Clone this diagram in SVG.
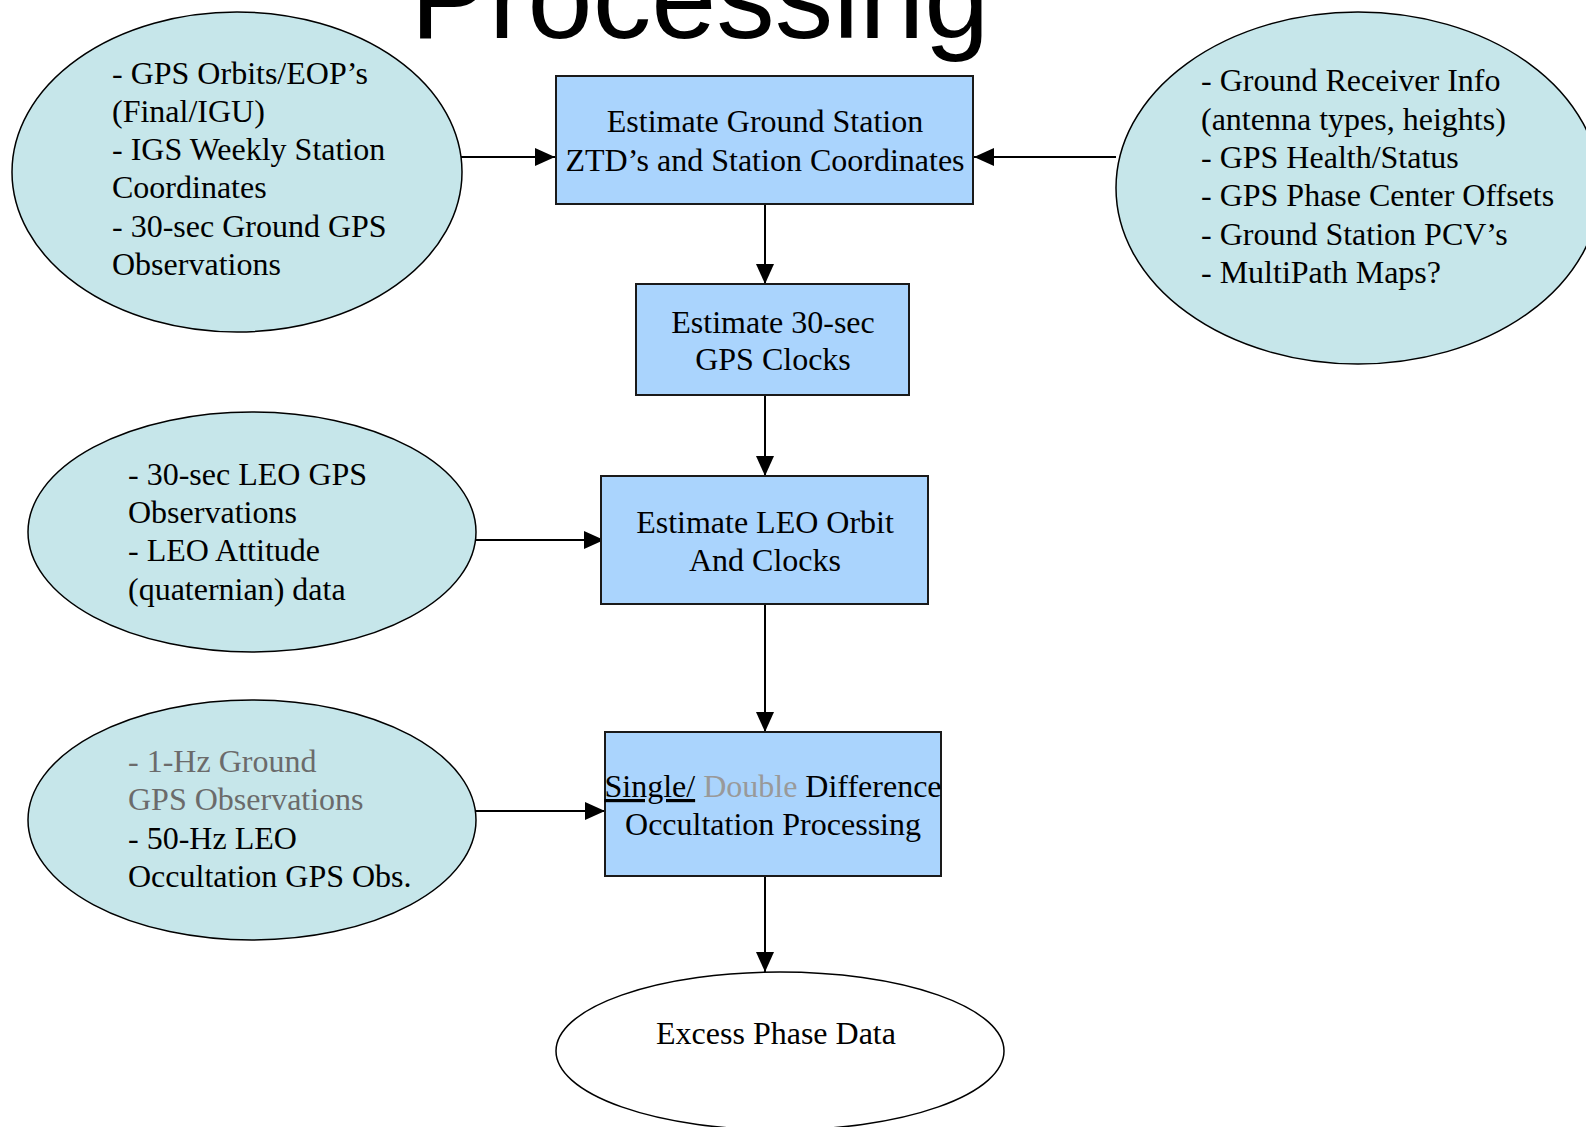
<svg xmlns="http://www.w3.org/2000/svg" width="1586" height="1127" viewBox="0 0 1586 1127">
<style>
.t{font-family:"Liberation Serif","Times New Roman",serif;font-size:32px;fill:#000}
.g{fill:#6b6b6b}
.lg{fill:#999}
.ell{fill:#c6e6ea;stroke:#000;stroke-width:1.5}
.box{fill:#aad4fd;stroke:#1a1a1a;stroke-width:2}
.out{fill:#fff;stroke:#000;stroke-width:1.5}
.c{stroke:#000;stroke-width:2;fill:none;marker-end:url(#ah)}
</style>
<defs>
<marker id="ah" viewBox="0 0 20 20" refX="20" refY="10" markerWidth="20" markerHeight="20" markerUnits="userSpaceOnUse" orient="auto">
<path d="M0,1 L20,10 L0,19 z" fill="#000"/>
</marker>
</defs>
<rect width="1586" height="1127" fill="#fff"/>
<text x="700" y="38" text-anchor="middle" style="font-family:'Liberation Sans',Arial,sans-serif;font-size:117px;fill:#000">Processing</text>

<g id="connectors">
<line class="c" x1="461" y1="157" x2="555" y2="157"/>
<line class="c" x1="1116" y1="157" x2="974" y2="157"/>
<line class="c" x1="765" y1="204" x2="765" y2="284"/>
<line class="c" x1="765" y1="395" x2="765" y2="476"/>
<line class="c" x1="476" y1="540" x2="604" y2="540"/>
<line class="c" x1="765" y1="604" x2="765" y2="732"/>
<line class="c" x1="476" y1="811" x2="605" y2="811"/>
<line class="c" x1="765" y1="876" x2="765" y2="972"/>
</g>

<g id="in-ground">
<ellipse class="ell" cx="237" cy="172" rx="225" ry="160"/>
<text class="t" x="112" y="84">- GPS Orbits/EOP’s</text>
<text class="t" x="112" y="122">(Final/IGU)</text>
<text class="t" x="112" y="160">- IGS Weekly Station</text>
<text class="t" x="112" y="198">Coordinates</text>
<text class="t" x="112" y="237">- 30-sec Ground GPS</text>
<text class="t" x="112" y="275">Observations</text>
</g>

<g id="in-receiver">
<ellipse class="ell" cx="1358" cy="188" rx="242" ry="176"/>
<text class="t" x="1201" y="91">- Ground Receiver Info</text>
<text class="t" x="1201" y="130">(antenna types, heights)</text>
<text class="t" x="1201" y="168">- GPS Health/Status</text>
<text class="t" x="1201" y="206">- GPS Phase Center Offsets</text>
<text class="t" x="1201" y="245">- Ground Station PCV’s</text>
<text class="t" x="1201" y="283">- MultiPath Maps?</text>
</g>

<g id="box-ground">
<rect class="box" x="556" y="76" width="417" height="128"/>
<text class="t" x="765" y="132" text-anchor="middle">Estimate Ground Station</text>
<text class="t" x="765" y="171" text-anchor="middle">ZTD’s and Station Coordinates</text>
</g>

<g id="box-clocks">
<rect class="box" x="636" y="284" width="273" height="111"/>
<text class="t" x="773" y="333" text-anchor="middle">Estimate 30-sec</text>
<text class="t" x="773" y="370" text-anchor="middle">GPS Clocks</text>
</g>

<g id="in-leo">
<ellipse class="ell" cx="252" cy="532" rx="224" ry="120"/>
<text class="t" x="128" y="485">- 30-sec LEO GPS</text>
<text class="t" x="128" y="523">Observations</text>
<text class="t" x="128" y="561">- LEO Attitude</text>
<text class="t" x="128" y="600">(quaternian) data</text>
</g>

<g id="box-leo">
<rect class="box" x="601" y="476" width="327" height="128"/>
<text class="t" x="765" y="533" text-anchor="middle">Estimate LEO Orbit</text>
<text class="t" x="765" y="571" text-anchor="middle">And Clocks</text>
</g>

<g id="in-occ">
<ellipse class="ell" cx="252" cy="820" rx="224" ry="120"/>
<text class="t g" x="128" y="772">- 1-Hz Ground</text>
<text class="t g" x="128" y="810">GPS Observations</text>
<text class="t" x="128" y="849">- 50-Hz LEO</text>
<text class="t" x="128" y="887">Occultation GPS Obs.</text>
</g>

<g id="box-occ">
<rect class="box" x="605" y="732" width="336" height="144"/>
<text class="t" x="773" y="797" text-anchor="middle"><tspan text-decoration="underline">Single/</tspan> <tspan class="lg">Double</tspan> Difference</text>
<text class="t" x="773" y="835" text-anchor="middle">Occultation Processing</text>
</g>

<g id="out-phase">
<ellipse class="out" cx="780" cy="1051" rx="224" ry="79"/>
<text class="t" x="776" y="1044" text-anchor="middle">Excess Phase Data</text>
</g>
</svg>
